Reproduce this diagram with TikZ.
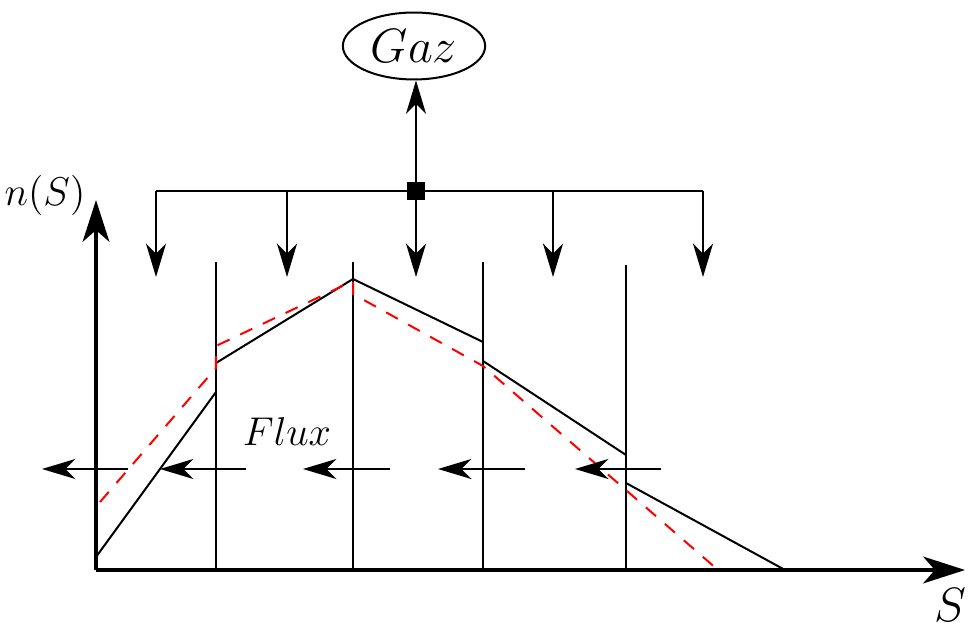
\documentclass[tikz,border=0pt]{standalone}
\usetikzlibrary{arrows.meta,shapes.geometric}
\definecolor{figLine}{HTML}{000000}
\definecolor{figFit}{HTML}{FF0000}

\begin{document}
\begin{tikzpicture}[x=0.0105cm,y=0.0105cm,
    bin/.style={figLine,line width=0.6pt},
    flow/.style={figLine,line width=0.6pt,-{Stealth[length=10pt,width=6pt,inset=3pt]}},
    axis/.style={figLine,line width=0.9pt,-{Stealth[length=12.5pt,width=8pt,inset=3.5pt]}}]
    \useasboundingbox (-96,-56) rectangle (872,570);
    % axes
    \coordinate (O) at (0,0);
    \coordinate (Ytip) at (0,370);
    \coordinate (Xtip) at (869,0);
    \draw[axis] (O)--(Ytip);
    \draw[axis] (O)--(Xtip);
    \node[font=\large] (nS) at (-51,375) {$n(S)$};
    \node[font=\Large] (Slab) at (854,-35) {$S$};
    % class boundaries
    \foreach \name/\x/\top in {B1/120/308,B2/257/308,B3/387/308,B4/530/305}{
        \coordinate (\name b) at (\x,0);
        \coordinate (\name t) at (\x,\top);
        \draw[bin] (\name b)--(\name t);
    }
    % piecewise distribution
    \draw[bin] (0,13)--(120,178);
    \draw[bin] (120,207)--(257,291)--(387,228);
    \draw[bin] (387,209)--(530,115);
    \draw[bin] (530,87)--(689,0);
    % smooth fit (dashed)
    \draw[figFit,line width=0.6pt,dash pattern=on 4pt off 3.5pt]
        (4,68)--(120,202)--(120,224)--(257,289)--(257,276)--(387,204)--(622,0);
    % gas source and distribution bar
    \coordinate (Dl) at (60,379);
    \coordinate (Dr) at (607,379);
    \draw[bin] (Dl)--(Dr);
    \node[fill=figLine,minimum size=5.3pt,inner sep=0pt] (split) at (320,379) {};
    \node[draw=figLine,ellipse,line width=0.6pt,minimum width=42.5pt,minimum height=20pt,
        inner sep=0pt,font=\Large] (gaz) at (318,524) {$Gaz$};
    \draw[flow] (split.center)--(split.center |- gaz.south);
    \foreach \i/\x in {1/60,2/191,3/320,4/457,5/607}{
        \coordinate (d\i) at (\x,379);
        \coordinate (e\i) at (\x,293);
        \draw[flow] (d\i)--(e\i);
    }
    % flux between classes
    \foreach \i/\a/\b in {1/32/-54,2/150/64,3/294/207,4/429/342,5/565/479}{
        \coordinate (f\i) at (\a,101);
        \coordinate (g\i) at (\b,101);
        \draw[flow] (f\i)--(g\i);
    }
    \node[font=\large] (flux) at (191,138) {$Flux$};
\end{tikzpicture}
\end{document}
